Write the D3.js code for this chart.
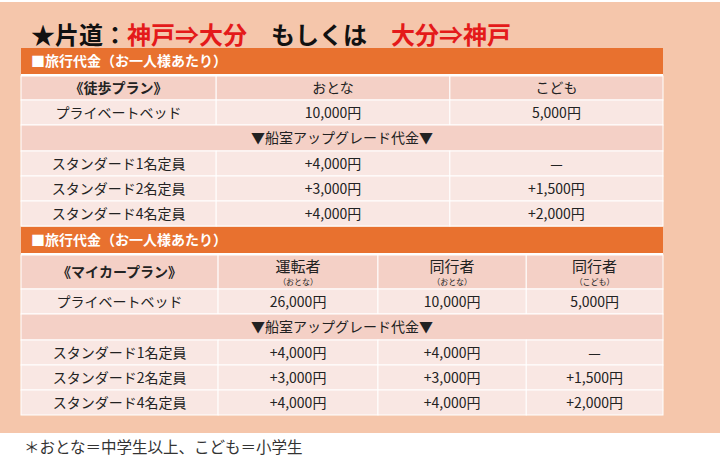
<!DOCTYPE html>
<html><head><meta charset="utf-8">
<script src="https://cdn.jsdelivr.net/npm/d3@7"></script>
<style>html,body{margin:0;padding:0;background:#fff;}svg{display:block;}</style>
</head><body>
<svg id="c" width="720" height="473"></svg>
<script>
// ---- data ----
const titleParts = [
  {t:"★片道：", red:false},
  {t:"神戸⇒大分", red:true},
  {t:"　もしくは　", red:false},
  {t:"大分⇒神戸", red:true}
];
const sectionLabel = "■旅行代金（お一人様あたり）";
const upgradeLabel = "▼船室アップグレード代金▼";
const roomTypes = ["スタンダード1名定員","スタンダード2名定員","スタンダード4名定員"];

const walkHeaders = ["《徒歩プラン》","おとな","こども"];
const walkBed = ["プライベートベッド","10,000円","5,000円"];
const walkAdultUp = ["+4,000円","+3,000円","+4,000円"];
const walkChildUp = ["—","+1,500円","+2,000円"];

const carHeaders = ["《マイカープラン》","運転者","同行者","同行者"];
const carSubHeaders = ["","（おとな）","（おとな）","（こども）"];
const carBed = ["プライベートベッド","26,000円","10,000円","5,000円"];
const carDriverUp = ["+4,000円","+3,000円","+4,000円"];
const carAdultUp = ["+4,000円","+3,000円","+4,000円"];
const carChildUp = ["—","+1,500円","+2,000円"];

const footnote = "＊おとな＝中学生以上、こども＝小学生";

// ---- layout ----
const svg = d3.select("#c");
const FONT = "'Noto Sans CJK JP','Noto Sans',sans-serif";
const C = {peach:"#F5C6AB", orange:"#E8712F", head:"#F4D0C6", light:"#F9E7E3", text:"#222"};

svg.append("rect").attr("x",0).attr("y",2).attr("width",720).attr("height",431).attr("fill",C.peach);

const tx = svg.append("text").attr("x",31).attr("y",44).attr("font-family",FONT)
  .attr("font-size",24).attr("font-weight","bold");
tx.selectAll("tspan").data(titleParts).join("tspan")
  .attr("fill",d=>d.red?"#E41A1A":"#111").text(d=>d.t);

const X0 = 21, X1 = 663;
const x = d3.scaleLinear().domain([0,1]).range([X0,X1]);
const walkCols = [0, 0.304, 0.668, 1];
const carCols  = [0, 0.307, 0.556, 0.787, 1];

function buildRows(headers, subs, bed, ups, cols){
  const rows = [];
  rows.push({kind:"section", h:26, cells:[sectionLabel]});
  rows.push({kind:"gap", h: 2});
  rows.push({kind:"head", h: subs ? 34 : 24, cells:headers, subs:subs});
  rows.push({kind:"data", h:25, cells:bed});
  rows.push({kind:"upgrade", h:26, cells:[upgradeLabel]});
  roomTypes.forEach((r,i)=>{
    rows.push({kind:"data", h:25, cells:[r].concat(ups.map(u=>u[i]))});
  });
  return {rows, cols};
}
const tables = [
  buildRows(walkHeaders, null, walkBed, [walkAdultUp, walkChildUp], walkCols),
  buildRows(carHeaders, carSubHeaders, carBed, [carDriverUp, carAdultUp, carChildUp], carCols)
];

let y = 48;
tables.forEach(tb=>{
  tb.rows.forEach(r=>{
    const g = svg.append("g");
    if(r.kind==="gap"){ g.append("rect").attr("x",X0).attr("y",y).attr("width",X1-X0).attr("height",r.h).attr("fill","#fff"); }
    else if(r.kind==="section"){
      g.append("rect").attr("x",X0).attr("y",y).attr("width",X1-X0).attr("height",r.h).attr("fill",C.orange);
      g.append("text").attr("x",31).attr("y",y+r.h/2+5).attr("font-family",FONT).attr("font-size",14)
        .attr("font-weight","bold").attr("fill","#fff").text(r.cells[0]);
    } else if(r.kind==="upgrade"){
      g.append("rect").attr("x",X0).attr("y",y).attr("width",X1-X0).attr("height",r.h).attr("fill",C.head)
        .attr("stroke","#fff").attr("stroke-width",1);
      g.append("text").attr("x",(X0+X1)/2).attr("y",y+r.h/2+5).attr("text-anchor","middle")
        .attr("font-family",FONT).attr("font-size",14).attr("fill",C.text).text(r.cells[0]);
    } else {
      const fill = r.kind==="head" ? C.head : C.light;
      r.cells.forEach((c,i)=>{
        const xa = x(tb.cols[i]), xb = x(tb.cols[i+1]);
        g.append("rect").attr("x",xa).attr("y",y).attr("width",xb-xa).attr("height",r.h)
          .attr("fill",fill).attr("stroke","#fff").attr("stroke-width",1);
        const sub = r.subs && r.subs[i];
        const base = sub ? y+17 : y+r.h/2+5;
        g.append("text").attr("x",(xa+xb)/2).attr("y",base).attr("text-anchor","middle")
          .attr("font-family",FONT).attr("font-size", sub?15:14)
          .attr("font-weight", r.kind==="head"&&i===0?"bold":"normal")
          .attr("fill",C.text).text(c);
        if(sub){
          g.append("text").attr("x",(xa+xb)/2).attr("y",y+30).attr("text-anchor","middle")
            .attr("font-family",FONT).attr("font-size",8).attr("fill",C.text).text(sub);
        }
      });
    }
    y += r.h;
  });
  y += 1;
});

svg.append("text").attr("x",24).attr("y",453).attr("font-family",FONT).attr("font-size",15.5)
  .attr("fill","#333").text(footnote);
</script>
</body></html>
